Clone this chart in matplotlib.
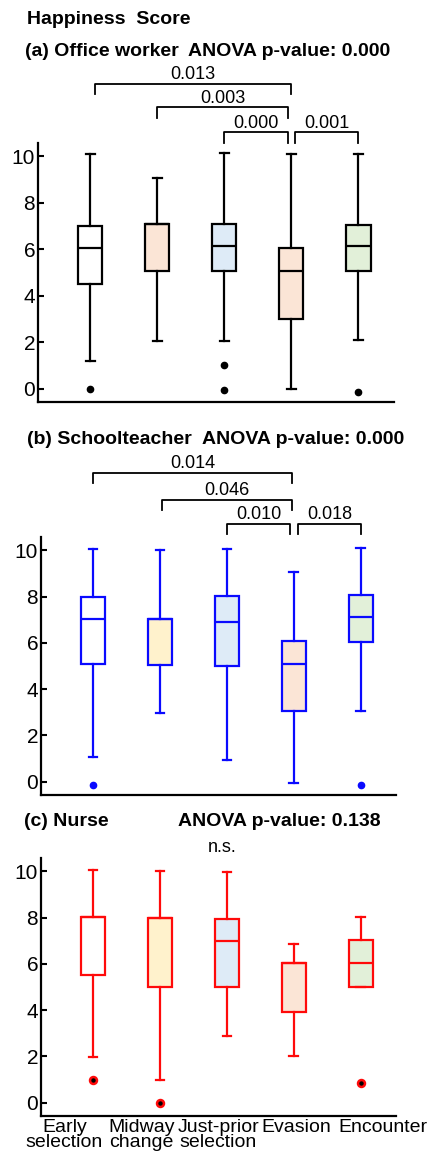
import matplotlib.pyplot as plt

plt.rcParams['font.family'] = ['Liberation Sans', 'DejaVu Sans']

W, H = 428, 1157

groups = ['Early\nselection', 'Midway\nchange', 'Just-prior\nselection', 'Evasion', 'Encounter']

# (a) Office worker
office_q1 = [4.49, 5.08, 5.08, 3.0, 5.06]
office_med = [6.07, 7.08, 6.14, 5.05, 6.16]
office_q3 = [7.0, 7.08, 7.09, 6.06, 7.05]
office_lo = [1.18, 2.04, 2.06, 0.0, 2.1]
office_hi = [10.1, 9.06, 10.13, 10.1, 10.1]
office_fliers = [[-0.04], [], [1.0, -0.06], [], [-0.14]]
office_p = ['0.013', '0.003', '0.000', '0.001']
office_anova = '0.000'

# (b) Schoolteacher
teacher_q1 = [5.09, 5.04, 4.98, 3.05, 6.04]
teacher_med = [7.05, 7.05, 6.89, 5.09, 7.12]
teacher_q3 = [8.0, 7.05, 8.01, 6.1, 8.06]
teacher_lo = [1.06, 2.95, 0.92, -0.06, 3.04]
teacher_hi = [10.04, 10.03, 10.07, 9.05, 10.12]
teacher_fliers = [[-0.14], [], [], [], [-0.14]]
teacher_p = ['0.014', '0.046', '0.010', '0.018']
teacher_anova = '0.000'

# (c) Nurse
nurse_q1 = [5.5, 4.99, 4.99, 3.9, 4.99]
nurse_med = [8.03, 7.99, 6.97, 6.04, 6.03]
nurse_q3 = [8.03, 7.99, 7.93, 6.04, 7.03]
nurse_lo = [1.97, 0.96, 2.86, 2.02, 4.99]
nurse_hi = [10.04, 10.0, 9.97, 6.87, 8.03]
nurse_fliers = [[0.98], [0.0], [], [], [0.83]]
nurse_anova = '0.138'

# comparison pairs (group indices) and bracket layout
pairs_a = [(1.07, 4.0, 13.12), (2.0, 3.95, 12.12), (2.99, 3.95, 11.04), (4.06, 5.0, 11.04)]
pairs_b = [(1.0, 3.97, 13.36), (2.03, 3.97, 12.2), (3.0, 3.95, 11.16), (4.06, 5.01, 11.16)]
label_pos = [0.57, 1.72, 2.87, 4.04, 5.33]

fills_a = ['white', '#fbe5d6', '#deebf7', '#fbe5d6', '#e2f0d9']
fills_bc = ['white', '#fff2cc', '#deebf7', '#fbe5d6', '#e2f0d9']

fig = plt.figure(figsize=(W / 100, H / 100), dpi=100)


def px_axes(left, top, right, bottom):
    return fig.add_axes([left / W, 1 - bottom / H, (right - left) / W, (bottom - top) / H])


def draw_panel(ax, q1, med, q3, lo, hi, fliers, edge, fills, face, msize, mew):
    stats = [dict(q1=a, med=m, q3=b, whislo=l, whishi=h, fliers=f)
             for a, m, b, l, h, f in zip(q1, med, q3, lo, hi, fliers)]
    bp = ax.bxp(stats, positions=range(1, 6), widths=0.36, capwidths=0.13,
                patch_artist=True,
                boxprops=dict(edgecolor=edge, linewidth=1.6),
                whiskerprops=dict(color=edge, linewidth=1.6),
                capprops=dict(color=edge, linewidth=1.6),
                medianprops=dict(color=edge, linewidth=1.6),
                flierprops=dict(marker='o', markerfacecolor=face, markeredgecolor=edge,
                                markersize=msize, markeredgewidth=mew))
    for patch, c in zip(bp['boxes'], fills):
        patch.set_facecolor(c)
    ax.set_xlim(0.22, 5.53)
    ax.set_ylim(-0.58, 10.58)
    ax.set_yticks([0, 2, 4, 6, 8, 10])
    ax.spines['top'].set_visible(False)
    ax.spines['right'].set_visible(False)
    ax.spines['left'].set_linewidth(1.6)
    ax.spines['bottom'].set_linewidth(1.6)
    ax.tick_params(axis='y', direction='in', length=4, width=1.5, labelsize=15, pad=2)
    ax.tick_params(axis='x', length=0)
    ax.set_xticks([])


def brackets(ax, pairs, labels):
    for (x1, x2, y), lab in zip(pairs, labels):
        ax.plot([x1, x1, x2, x2], [y - 0.45, y, y, y - 0.45], color='black', lw=1.3, clip_on=False)
        ax.text((x1 + x2) / 2, y + 0.2, lab, ha='center', va='baseline', fontsize=13, clip_on=False)


def fig_text(x, y, s, **kw):
    fig.text(x / W, 1 - y / H, s, va='center', fontsize=14, fontweight='bold', **kw)


ax_a = px_axes(38, 143, 394, 402)
draw_panel(ax_a, office_q1, office_med, office_q3, office_lo, office_hi, office_fliers,
           'black', fills_a, 'black', 4.5, 1)
brackets(ax_a, pairs_a, office_p)

ax_b = px_axes(41, 537, 396, 795)
draw_panel(ax_b, teacher_q1, teacher_med, teacher_q3, teacher_lo, teacher_hi, teacher_fliers,
           '#0a0aff', fills_bc, '#0a0aff', 4.5, 1)
brackets(ax_b, pairs_b, teacher_p)

ax_c = px_axes(41, 858, 396, 1116)
draw_panel(ax_c, nurse_q1, nurse_med, nurse_q3, nurse_lo, nurse_hi, nurse_fliers,
           '#ff0a0a', fills_bc, 'black', 5, 1.8)
ax_c.text(2.93, 10.82, 'n.s.', ha='center', va='baseline', fontsize=13, clip_on=False)
ax_c.set_xticks(label_pos, groups)
ax_c.tick_params(axis='x', length=0, labelsize=14, pad=2)
for t in ax_c.get_xticklabels():
    t.set_linespacing(0.9)

fig_text(27, 20, 'Happiness  Score')
fig_text(25, 52, '(a) Office worker')
fig_text(188, 52, 'ANOVA p-value: ' + office_anova)
fig_text(27, 440, '(b) Schoolteacher')
fig_text(202, 440, 'ANOVA p-value: ' + teacher_anova)
fig_text(24, 822, '(c) Nurse')
fig_text(178, 822, 'ANOVA p-value: ' + nurse_anova)

fig.savefig('out.png', dpi=100)
